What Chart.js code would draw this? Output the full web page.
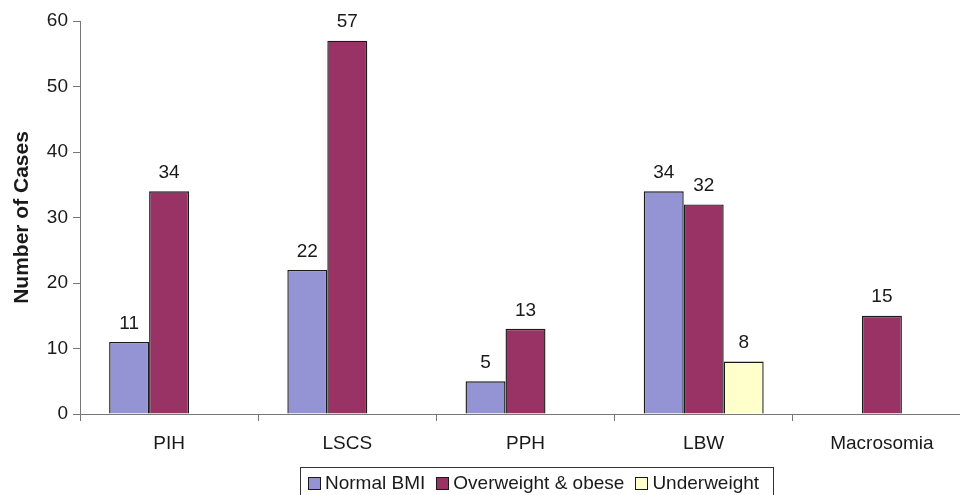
<!DOCTYPE html>
<html>
<head>
<meta charset="utf-8">
<script src="https://cdn.jsdelivr.net/npm/chart.js@4.4.0/dist/chart.umd.min.js"></script>
<style>
  html, body { margin: 0; padding: 0; background: #fff; overflow: hidden; }
</style>
</head>
<body>
<canvas id="chart" width="972" height="495"></canvas>
<script>
  // Chart values
  const categories = ['PIH', 'LSCS', 'PPH', 'LBW', 'Macrosomia'];
  const normalBmi = [11, 22, 5, 34, null];
  const overweightObese = [34, 57, 13, 32, 15];
  const underweight = [null, null, null, 8, null];
  const yTickValues = [0, 10, 20, 30, 40, 50, 60];

  const FONT_FAMILY = 'Arial, "Liberation Sans", sans-serif';
  const FONT = '19px ' + FONT_FAMILY;
  const AXIS_COLOR = '#777';
  const TEXT_COLOR = '#1a1a1a';

  Chart.defaults.font.family = FONT_FAMILY;
  Chart.defaults.font.size = 19;
  Chart.defaults.color = TEXT_COLOR;

  // Numbers above each bar
  const valueLabels = {
    id: 'valueLabels',
    afterDatasetsDraw(chart) {
      const ctx = chart.ctx;
      ctx.save();
      ctx.font = FONT;
      ctx.fillStyle = TEXT_COLOR;
      ctx.textAlign = 'center';
      ctx.textBaseline = 'middle';
      chart.data.datasets.forEach((ds, i) => {
        chart.getDatasetMeta(i).data.forEach((bar, j) => {
          const v = ds.data[j];
          if (v == null) return;
          ctx.fillText(String(v), bar.x, bar.y - 18.5);
        });
      });
      ctx.restore();
    }
  };

  // Legend in a framed box under the axis, Excel style
  const boxedLegend = {
    id: 'boxedLegend',
    afterDraw(chart) {
      const ctx = chart.ctx;
      ctx.save();
      ctx.font = FONT;
      const items = chart.data.datasets.map((ds) => ({
        text: ds.label,
        color: ds.backgroundColor,
        w: ctx.measureText(ds.label).width
      }));
      const box = 13, gap = 4, spacing = 11;
      const total = 8 + items.reduce((s, it) => s + box + gap + it.w, 0) + spacing * (items.length - 1) + 14;
      let x = Math.round(537 - total / 2);
      const top = 467, cy = 483;

      ctx.strokeStyle = '#333';
      ctx.lineWidth = 1;
      ctx.strokeRect(x + 0.5, top + 0.5, Math.round(total), 40);

      x += 8;
      ctx.textBaseline = 'middle';
      ctx.textAlign = 'left';
      items.forEach((it) => {
        const bx = Math.round(x), by = cy - 6;
        ctx.fillStyle = it.color;
        ctx.fillRect(bx, by, box - 1, box - 1);
        ctx.strokeStyle = '#1a1a1a';
        ctx.strokeRect(bx + 0.5, by + 0.5, box - 1, box - 1);
        ctx.fillStyle = TEXT_COLOR;
        ctx.fillText(it.text, x + box + gap, cy + 1);
        x += box + gap + it.w + spacing;
      });
      ctx.restore();
    }
  };

  new Chart(document.getElementById('chart'), {
    type: 'bar',
    data: {
      labels: categories,
      datasets: [
        { label: 'Normal BMI', data: normalBmi, backgroundColor: '#9494d4' },
        { label: 'Overweight & obese', data: overweightObese, backgroundColor: '#993366' },
        { label: 'Underweight', data: underweight, backgroundColor: '#ffffcc' }
      ]
    },
    options: {
      responsive: false,
      animation: false,
      layout: { padding: { top: 21, right: 1, left: 0, bottom: 0 } },
      datasets: {
        bar: {
          categoryPercentage: 0.673,
          barPercentage: 1,
          borderColor: '#1a1a1a',
          borderWidth: 1.4
        }
      },
      plugins: {
        legend: { display: false },
        tooltip: { enabled: false }
      },
      scales: {
        x: {
          grid: { offset: true, drawOnChartArea: false, tickLength: 7, color: AXIS_COLOR },
          border: { color: AXIS_COLOR },
          ticks: { padding: 11, color: TEXT_COLOR },
          afterFit: (s) => { s.height = 81; }
        },
        y: {
          min: 0,
          max: 60,
          grid: { drawOnChartArea: false, tickLength: 7, color: AXIS_COLOR },
          border: { color: AXIS_COLOR },
          ticks: { padding: 5, color: TEXT_COLOR },
          afterBuildTicks: (s) => { s.ticks = yTickValues.map((v) => ({ value: v })); },
          title: {
            display: true,
            text: 'Number of Cases',
            color: TEXT_COLOR,
            font: { size: 21, weight: 'bold' },
            padding: { top: 10, bottom: 0 }
          },
          afterFit: (s) => { s.width = 80; }
        }
      }
    },
    plugins: [valueLabels, boxedLegend]
  });
</script>
</body>
</html>
